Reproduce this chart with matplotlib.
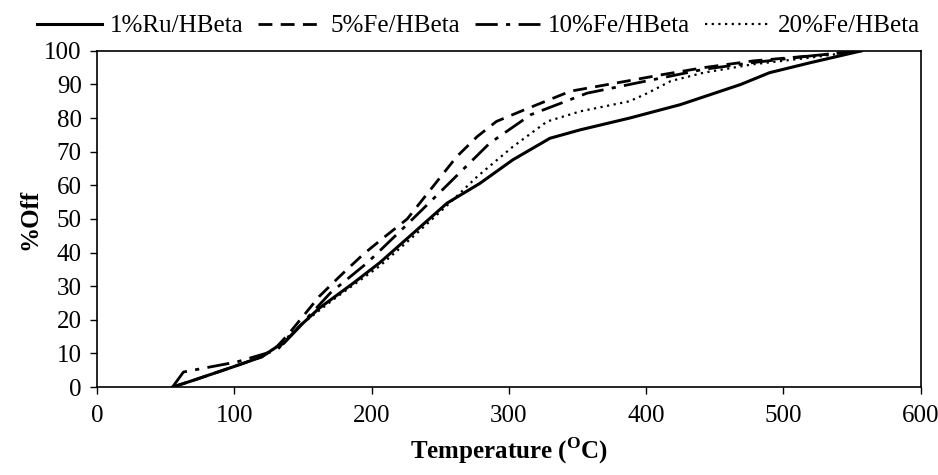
import numpy as np
import matplotlib
matplotlib.use("Agg")
import matplotlib.pyplot as plt

plt.rcParams['font.family'] = ['Liberation Serif', 'DejaVu Serif']
plt.rcParams['mathtext.fontset'] = 'custom'
plt.rcParams['mathtext.rm'] = 'Liberation Serif'
plt.rcParams['mathtext.bf'] = 'Liberation Serif:bold'

# data
t_ru = [55, 70, 99, 120, 131, 136, 150, 162, 172, 187, 206, 231, 255, 279, 303, 330, 352, 388, 425, 469, 490, 520, 557]
ru = [0, 2, 6, 9, 12, 13, 19, 23.5, 26.5, 31, 37, 46, 54.7, 60.6, 67.6, 74, 76.5, 80, 84, 90, 93.5, 96.5, 100]

t_fe5 = [55, 70, 99, 120, 131, 140, 150, 162, 177, 194, 209, 226, 262, 277, 291, 311, 345, 386, 413, 442, 478, 520, 557]
fe5 = [0, 2, 6, 9, 12, 16, 21, 27, 33, 39.5, 44.5, 50, 68.5, 74.5, 79, 82.4, 88, 91, 93, 95, 97, 98.5, 100]

t_fe10 = [55, 63, 102, 131, 145, 170, 197, 225, 250, 286, 316, 357, 400, 442, 478, 520, 557]
fe10 = [0, 4.5, 7.5, 11, 17, 28, 37, 48, 58, 72.5, 81, 87.4, 91, 94.5, 96.5, 98.5, 100]

t_fe20 = [55, 70, 99, 120, 131, 150, 172, 206, 231, 255, 277, 303, 328, 352, 388, 401, 418, 442, 478, 520, 557]
fe20 = [0, 2, 6, 9, 12, 19, 26, 36, 45, 54, 62.6, 71.5, 79, 82, 85, 87.4, 91, 93.5, 96, 98, 100]

fig = plt.figure(figsize=(9.38, 4.75), dpi=100)
ax = fig.add_axes([0.1034, 0.185, 0.878, 0.708])

ax.plot(t_ru, ru, color='black', lw=2.2, ls='-', label='1%Ru/HBeta')
ax.plot(t_fe5, fe5, color='black', lw=2, ls=(0, (5, 3)), label='5%Fe/HBeta')
ax.plot(t_fe10, fe10, color='black', lw=2, ls=(0, (8, 3, 1.5, 3)), label='10%Fe/HBeta')
ax.plot(t_fe20, fe20, color='black', lw=1.6, ls=(0, (1, 2)), label='20%Fe/HBeta')

ax.set_xlim(0, 600)
ax.set_ylim(0, 100)
ax.set_xticks(np.arange(0, 601, 100))
ax.set_yticks(np.arange(0, 101, 10))
ax.tick_params(direction='out', length=5, width=1, labelsize=18)
ax.tick_params(axis='x', pad=8)
ax.tick_params(axis='y', pad=6)
for s in ax.spines.values():
    s.set_linewidth(1.2)

ax.set_xlabel(r'Temperature ($^{\mathbf{O}}$C)', fontsize=18, fontweight='bold', labelpad=6)
ax.set_ylabel('%Off', fontsize=18, fontweight='bold', labelpad=2)

fig.legend(loc='center', bbox_to_anchor=(0.51, 0.945), ncol=4, frameon=False,
           fontsize=18, handlelength=2.6, handletextpad=0.3, columnspacing=0.6,
           borderaxespad=0)

fig.savefig('out.png', dpi=100)
